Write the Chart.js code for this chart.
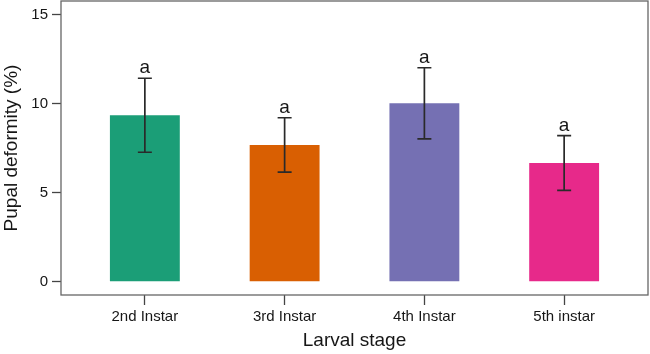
<!DOCTYPE html>
<html>
<head>
<meta charset="utf-8">
<script src="https://cdn.jsdelivr.net/npm/chart.js@4/dist/chart.umd.min.js"></script>
<style>
  html, body { margin: 0; padding: 0; background: #fff; }
  #wrap { width: 650px; height: 354px; }
</style>
</head>
<body>
<div id="wrap"><canvas id="chart"></canvas></div>
<script>
const STAGES    = ['2nd Instar', '3rd Instar', '4th Instar', '5th instar']
const DEFORMITY = [9.35, 7.68, 10.03, 6.67]
const ERR_LOW   = [7.27, 6.15, 8.02, 5.13]
const ERR_HIGH  = [11.43, 9.21, 12.02, 8.2]
const GROUPS    = ['a', 'a', 'a', 'a']
const Y_TICKS   = [0, 5, 10, 15]
const COLORS    = ['#1b9e77', '#d95f02', '#7570b3', '#e7298a']

const FONT = '"Liberation Sans", Arial, sans-serif'
const INK = '#161616'

// error bars, letters and the box around the plot
const extras = {
  id: 'extras',
  afterDatasetsDraw(chart) {
    const { ctx, chartArea, scales: { x, y } } = chart
    ctx.save()
    ctx.strokeStyle = '#2a2a2a'
    ctx.lineWidth = 1.7
    ctx.fillStyle = INK
    ctx.font = '19px ' + FONT
    ctx.textAlign = 'center'
    ctx.textBaseline = 'alphabetic'
    STAGES.forEach((s, i) => {
      const cx = x.getPixelForValue(i + 1)
      const lo = y.getPixelForValue(ERR_LOW[i])
      const hi = y.getPixelForValue(ERR_HIGH[i])
      ctx.beginPath()
      ctx.moveTo(cx, lo); ctx.lineTo(cx, hi)
      ctx.moveTo(cx - 7, lo); ctx.lineTo(cx + 7, lo)
      ctx.moveTo(cx - 7, hi); ctx.lineTo(cx + 7, hi)
      ctx.stroke()
      ctx.fillText(GROUPS[i], cx, hi - 5)
    })
    ctx.strokeStyle = '#666'
    ctx.lineWidth = 1.3
    ctx.strokeRect(chartArea.left, chartArea.top, chartArea.right - chartArea.left, chartArea.bottom - chartArea.top)
    ctx.restore()
  }
}

new Chart(document.getElementById('chart'), {
  type: 'bar',
  data: {
    datasets: [{
      data: DEFORMITY.map((v, i) => ({ x: i + 1, y: v })),
      backgroundColor: COLORS,
      borderWidth: 0,
      categoryPercentage: 1,
      barPercentage: 0.5,
    }],
  },
  options: {
    responsive: true,
    maintainAspectRatio: false,
    animation: false,
    layout: { padding: { top: 1, right: 2, left: 0, bottom: 0 } },
    plugins: {
      legend: { display: false },
      tooltip: { enabled: false },
    },
    scales: {
      x: {
        type: 'linear',
        offset: false,
        min: 0.4,
        max: 4.6,
        afterBuildTicks: (scale) => { scale.ticks = STAGES.map((s, i) => ({ value: i + 1 })) },
        afterFit: (scale) => {
          scale.height = 59
          scale.paddingLeft = 0
          scale.paddingRight = 0
        },
        ticks: {
          callback: (v) => STAGES[v - 1] ?? '',
          color: INK,
          font: { family: FONT, size: 15 },
          padding: 3,
          maxRotation: 0,
        },
        grid: { offset: false, drawOnChartArea: false, drawTicks: true, tickLength: 10, tickColor: '#444', tickWidth: 1.3 },
        border: { display: false },
        title: {
          display: true,
          text: 'Larval stage',
          color: INK,
          font: { family: FONT, size: 19 },
          padding: { top: 0, bottom: 2 },
        },
      },
      y: {
        min: -0.75,
        max: 15.77,
        afterBuildTicks: (scale) => { scale.ticks = Y_TICKS.map(v => ({ value: v })) },
        afterFit: (scale) => {
          scale.width = 61
          scale.paddingTop = 0
          scale.paddingBottom = 0
        },
        ticks: {
          color: INK,
          font: { family: FONT, size: 15 },
          padding: 4,
        },
        grid: { drawOnChartArea: false, drawTicks: true, tickLength: 9, tickColor: '#444', tickWidth: 1.3 },
        border: { display: false },
        title: {
          display: true,
          text: 'Pupal deformity (%)',
          color: INK,
          font: { family: FONT, size: 19 },
          padding: { top: 0, bottom: 0 },
        },
      },
    },
  },
  plugins: [extras],
})
</script>
</body>
</html>
